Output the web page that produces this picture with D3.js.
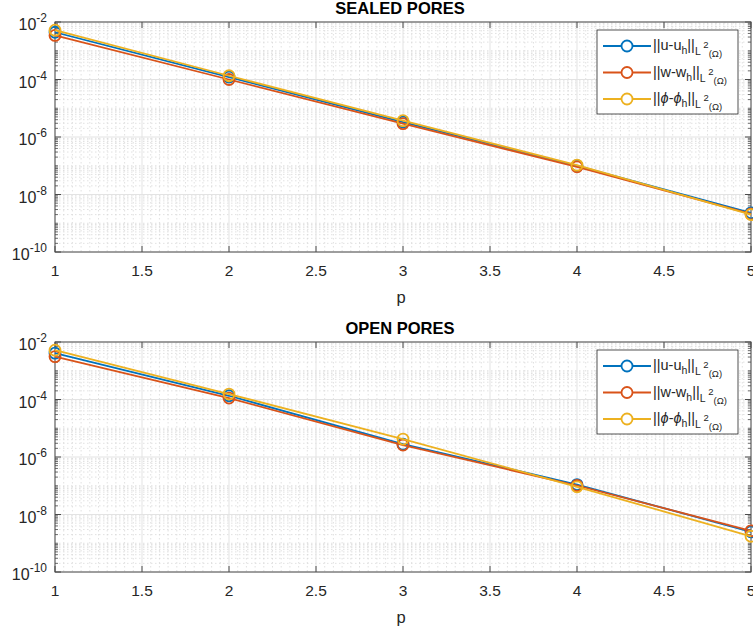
<!DOCTYPE html>
<html>
<head>
<meta charset="utf-8">
<script src="https://cdn.jsdelivr.net/npm/d3@7"></script>
<style>
  html, body { margin: 0; padding: 0; background: #fff; }
  svg { display: block; font-family: "Liberation Sans", Arial, Helvetica, sans-serif; }
</style>
</head>
<body>
<svg id="chart" width="753" height="628"></svg>
<script>
// Polynomial degree p
const degrees = [1, 2, 3, 4, 5];
const xTicks = [1, 1.5, 2, 2.5, 3, 3.5, 4, 4.5, 5];
const yTickExponents = [-2, -4, -6, -8, -10];

// L2 errors, sealed pores
const sealedU   = [4.4e-3, 1.22e-4, 3.3e-6, 1.0e-7, 2.3e-9];
const sealedW   = [3.4e-3, 1.0e-4, 2.9e-6, 9.2e-8, 2.1e-9];
const sealedPhi = [5.2e-3, 1.35e-4, 3.7e-6, 1.05e-7, 2.0e-9];

// L2 errors, open pores
const openU   = [4.1e-3, 1.35e-4, 2.8e-6, 1.1e-7, 2.5e-9];
const openW   = [3.1e-3, 1.12e-4, 2.6e-6, 1.02e-7, 2.7e-9];
const openPhi = [5.2e-3, 1.55e-4, 4.2e-6, 9.2e-8, 1.75e-9];

const seriesNames = ["u", "w", "phi"];
const seriesColors = ["#0072BD", "#D95319", "#EDB120"];

const panels = [
  { title: "SEALED PORES", top: 22, values: [sealedU, sealedW, sealedPhi] },
  { title: "OPEN PORES", top: 342, values: [openU, openW, openPhi] }
];

const svg = d3.select("#chart");
const left = 55, right = 751, plotH = 230;
const x = d3.scaleLinear().domain([1, 5]).range([left, right]);

function legendLabel(textSel, name) {
  const main = name === "u" ? "||u-u" : name === "w" ? "||w-w" : null;
  if (main) {
    textSel.append("tspan").text(main);
  } else {
    textSel.append("tspan").text("||");
    textSel.append("tspan").attr("font-style", "italic").text("\u03D5");
    textSel.append("tspan").text("-");
    textSel.append("tspan").attr("font-style", "italic").text("\u03D5");
  }
  textSel.append("tspan").attr("font-size", 10.5).attr("dy", 4).text("h");
  textSel.append("tspan").attr("dy", -4).text("||");
  textSel.append("tspan").attr("font-size", 10.5).attr("dy", 5).text("L");
  textSel.append("tspan").attr("font-size", 9.5).attr("dy", -7).text(" 2");
  textSel.append("tspan").attr("font-size", 9.5).attr("dy", 9).text("(\u03A9)");
}

panels.forEach(panel => {
  const top = panel.top, bottom = top + plotH;
  const y = d3.scaleLog().domain([1e-10, 1e-2]).range([bottom, top]);
  const g = svg.append("g");

  // minor grid: x every 0.05, y at 2..9 x 10^k and the odd decades
  const minorX = d3.range(1, 5.0001, 0.05).filter(v => Math.abs(v * 2 - Math.round(v * 2)) > 1e-6);
  const minorY = [];
  for (let k = -10; k < -2; k++) for (let m = 2; m <= 9; m++) minorY.push(m * Math.pow(10, k));
  const oddDecades = d3.range(-9, -2, 2).map(k => Math.pow(10, k));

  g.selectAll(".mgx").data(minorX).join("line")
    .attr("x1", d => x(d)).attr("x2", d => x(d)).attr("y1", top).attr("y2", bottom)
    .attr("stroke", "#d4d4d4").attr("stroke-width", 0.7).attr("stroke-dasharray", "1.5,2.5");
  g.selectAll(".mgy").data(minorY.concat(oddDecades)).join("line")
    .attr("x1", left).attr("x2", right).attr("y1", d => y(d)).attr("y2", d => y(d))
    .attr("stroke", "#d4d4d4").attr("stroke-width", 0.7).attr("stroke-dasharray", "1.5,2.5");

  // major grid
  g.selectAll(".gx").data(xTicks).join("line")
    .attr("x1", d => x(d)).attr("x2", d => x(d)).attr("y1", top).attr("y2", bottom)
    .attr("stroke", "#e3e3e3").attr("stroke-width", 1);
  g.selectAll(".gy").data(yTickExponents).join("line")
    .attr("x1", left).attr("x2", right).attr("y1", d => y(Math.pow(10, d))).attr("y2", d => y(Math.pow(10, d)))
    .attr("stroke", "#e3e3e3").attr("stroke-width", 1);

  // box
  const axisColor = "#4a4a4a";
  g.append("rect").attr("x", left).attr("y", top).attr("width", right - left).attr("height", plotH)
    .attr("fill", "none").attr("stroke", axisColor).attr("stroke-width", 1);

  // x ticks (inward, bottom and top)
  xTicks.forEach(t => {
    g.append("line").attr("x1", x(t)).attr("x2", x(t)).attr("y1", bottom).attr("y2", bottom - 6)
      .attr("stroke", axisColor);
    g.append("line").attr("x1", x(t)).attr("x2", x(t)).attr("y1", top).attr("y2", top + 6)
      .attr("stroke", axisColor);
  });
  // y ticks (inward, left and right)
  const allY = yTickExponents.map(e => Math.pow(10, e));
  allY.forEach(v => {
    g.append("line").attr("x1", left).attr("x2", left + 6).attr("y1", y(v)).attr("y2", y(v)).attr("stroke", axisColor);
    g.append("line").attr("x1", right).attr("x2", right - 6).attr("y1", y(v)).attr("y2", y(v)).attr("stroke", axisColor);
  });
  minorY.concat(oddDecades).forEach(v => {
    g.append("line").attr("x1", left).attr("x2", left + 3).attr("y1", y(v)).attr("y2", y(v)).attr("stroke", axisColor).attr("stroke-width", 0.8);
    g.append("line").attr("x1", right).attr("x2", right - 3).attr("y1", y(v)).attr("y2", y(v)).attr("stroke", axisColor).attr("stroke-width", 0.8);
  });

  // x tick labels
  g.selectAll(".xl").data(xTicks).join("text")
    .attr("x", d => x(d)).attr("y", bottom + 24)
    .attr("text-anchor", "middle").attr("font-size", 15.5).attr("fill", "#262626")
    .text(d => d3.format("~g")(d));

  // y tick labels 10^k
  yTickExponents.forEach(e => {
    const t = g.append("text").attr("x", 47).attr("y", y(Math.pow(10, e)) + 8)
      .attr("text-anchor", "end").attr("fill", "#262626").attr("font-size", 16);
    t.append("tspan").text("10");
    t.append("tspan").attr("font-size", 12).attr("dy", -8).text(String(e));
  });

  // axis label and title
  g.append("text").attr("x", (left + right) / 2 - 2).attr("y", bottom + 51)
    .attr("text-anchor", "middle").attr("font-size", 16.5).attr("fill", "#262626").text("p");
  g.append("text").attr("x", 400).attr("y", top - 8)
    .attr("text-anchor", "middle").attr("font-size", 16.5).attr("font-weight", "bold").attr("fill", "#000")
    .text(panel.title);

  // series
  const line = d3.line().x((d, i) => x(degrees[i])).y(d => y(d));
  panel.values.forEach((vals, si) => {
    g.append("path").datum(vals).attr("d", line)
      .attr("fill", "none").attr("stroke", seriesColors[si]).attr("stroke-width", 1.8);
    g.selectAll(null).data(vals).join("circle")
      .attr("cx", (d, i) => x(degrees[i])).attr("cy", d => y(d)).attr("r", 5.5)
      .attr("fill", "none").attr("stroke", seriesColors[si]).attr("stroke-width", 1.8);
  });

  // legend
  const lx = 597, ly = top + 8, lw = 141, lh = 84;
  const lg = g.append("g");
  lg.append("rect").attr("x", lx).attr("y", ly).attr("width", lw).attr("height", lh)
    .attr("fill", "#fff").attr("stroke", "#262626").attr("stroke-width", 0.8);
  seriesNames.forEach((name, si) => {
    const ry = ly + 16 + si * 26.5;
    lg.append("line").attr("x1", 603).attr("x2", 651).attr("y1", ry).attr("y2", ry)
      .attr("stroke", seriesColors[si]).attr("stroke-width", 1.8);
    lg.append("circle").attr("cx", 627).attr("cy", ry).attr("r", 5.5)
      .attr("fill", "#fff").attr("stroke", seriesColors[si]).attr("stroke-width", 1.8);
    const t = lg.append("text").attr("x", 653).attr("y", ry + 4)
      .attr("font-size", 14.5).attr("fill", "#262626");
    legendLabel(t, name);
  });
});
</script>
</body>
</html>
